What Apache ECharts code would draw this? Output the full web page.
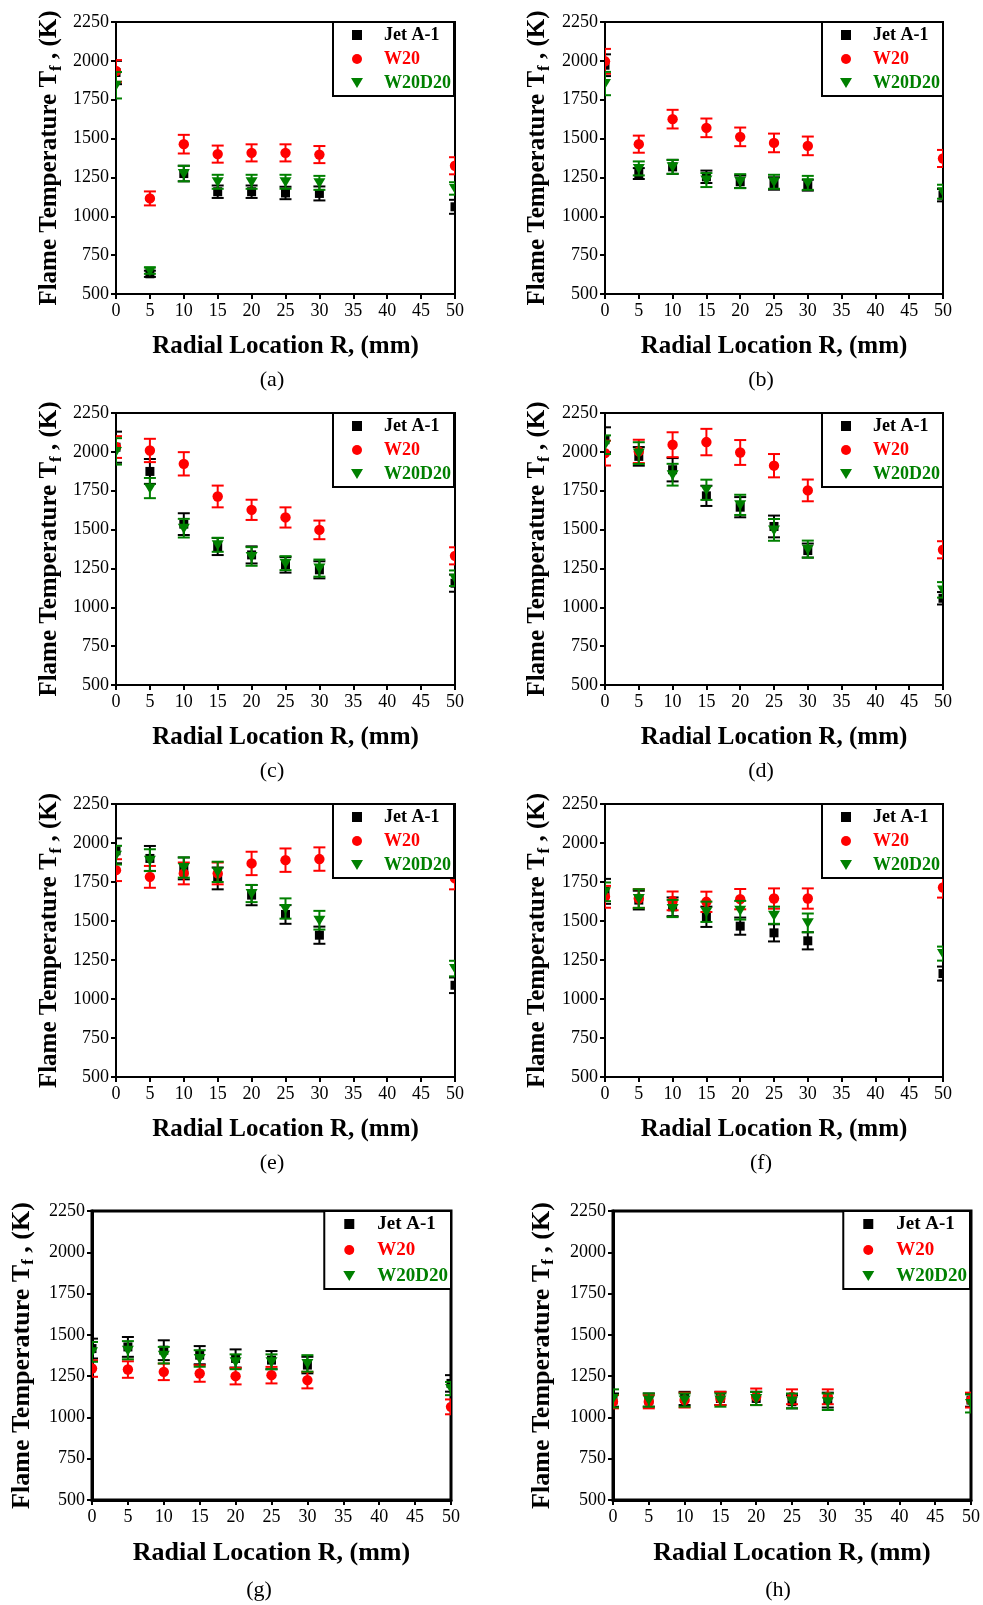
<!DOCTYPE html>
<html>
<head>
<meta charset="utf-8">
<script src="https://cdn.jsdelivr.net/npm/echarts/dist/echarts.min.js"></script>
<style>
html, body { margin: 0; padding: 0; background: #fff; }
#main { width: 983px; height: 1605px; }
</style>
</head>
<body>
<div id="main"></div>
<script>
// radial positions (mm), same for every panel
var radius = [0, 5, 10, 15, 20, 25, 30, 50];
var panelTags = ['(a)', '(b)', '(c)', '(d)', '(e)', '(f)', '(g)', '(h)'];
var fuelNames = ['Jet A-1', 'W20', 'W20D20'];

// flame temperature (K), one row per panel a..h
var jetA_T = [
    [1925, 630, 1275, 1158, 1158, 1150, 1147, 1061],
    [1972, 1275, 1318, 1254, 1222, 1211, 1200, 1136],
    [2030, 1874, 1535, 1391, 1337, 1273, 1241, 1155],
    [2078, 1971, 1885, 1717, 1644, 1520, 1365, 1058],
    [1950, 1901, 1837, 1773, 1666, 1542, 1409, 1088],
    [1690, 1634, 1591, 1527, 1467, 1424, 1373, 1163],
    [1417, 1427, 1407, 1377, 1357, 1347, 1317, 1206],
    [1105, 1105, 1115, 1115, 1115, 1095, 1105, 1105]
];
var jetA_err = [
    [75, 20, 50, 40, 40, 40, 45, 45],
    [70, 35, 45, 40, 40, 40, 35, 40],
    [100, 80, 70, 55, 55, 50, 55, 55],
    [80, 60, 75, 65, 65, 70, 45, 40],
    [80, 80, 70, 70, 65, 60, 55, 50],
    [80, 60, 60, 65, 55, 55, 55, 45],
    [60, 60, 60, 55, 55, 55, 50, 50],
    [40, 40, 40, 40, 40, 40, 45, 40]
];
var w20_T = [
    [1935, 1115, 1464, 1400, 1408, 1408, 1397, 1325],
    [1997, 1464, 1625, 1569, 1511, 1472, 1453, 1372],
    [2031, 2009, 1923, 1713, 1627, 1578, 1498, 1331],
    [1992, 2003, 2046, 2063, 1996, 1911, 1752, 1370],
    [1826, 1783, 1805, 1805, 1869, 1890, 1897, 1773],
    [1655, 1644, 1629, 1623, 1640, 1644, 1644, 1715],
    [1296, 1290, 1276, 1266, 1250, 1256, 1226, 1064],
    [1095, 1095, 1105, 1115, 1125, 1125, 1125, 1105]
];
var w20_err = [
    [70, 45, 60, 55, 55, 55, 55, 55],
    [80, 55, 60, 60, 60, 60, 60, 55],
    [70, 75, 75, 70, 65, 65, 60, 55],
    [80, 75, 80, 85, 80, 75, 70, 55],
    [70, 70, 70, 70, 75, 75, 75, 70],
    [70, 60, 60, 65, 65, 65, 65, 65],
    [50, 50, 50, 50, 50, 50, 50, 45],
    [40, 40, 45, 40, 50, 45, 45, 45]
];
var w20d20_T = [
    [1843, 650, 1275, 1222, 1222, 1222, 1215, 1179],
    [1854, 1308, 1318, 1233, 1226, 1222, 1215, 1158],
    [2003, 1767, 1509, 1402, 1327, 1284, 1252, 1187],
    [2046, 1992, 1853, 1756, 1659, 1498, 1374, 1112],
    [1922, 1890, 1843, 1815, 1676, 1580, 1505, 1195],
    [1687, 1644, 1580, 1559, 1569, 1537, 1488, 1291],
    [1397, 1407, 1377, 1357, 1337, 1337, 1327, 1175],
    [1115, 1105, 1105, 1105, 1115, 1100, 1095, 1085]
];
var w20d20_err = [
    [85, 20, 50, 45, 45, 45, 45, 40],
    [75, 45, 45, 45, 45, 45, 45, 45],
    [85, 65, 60, 45, 60, 45, 55, 50],
    [60, 70, 70, 65, 65, 70, 55, 50],
    [60, 70, 65, 65, 55, 65, 60, 50],
    [60, 60, 55, 65, 60, 55, 60, 45],
    [60, 55, 50, 50, 45, 45, 50, 40],
    [55, 40, 40, 40, 40, 45, 50, 55]
];

var fuelT = [jetA_T, w20_T, w20d20_T];
var fuelErr = [jetA_err, w20_err, w20d20_err];
var colors = ['#000000', '#ff0000', '#008000'];
var shapes = ['square', 'circle', 'triangle'];
var icons = ['path://M0,0L10,0L10,10L0,10Z', 'circle', 'path://M0,0L12,0L6,10Z'];

// panel boxes (px)
var boxes = [
    {left: 116, top: 22, w: 339, h: 272, legR: 454, tx: 272, ty: 380, yGap: 51},
    {left: 605, top: 22, w: 338, h: 272, legR: 943, tx: 761, ty: 380, yGap: 52},
    {left: 116, top: 413, w: 339, h: 272, legR: 454, tx: 272, ty: 771, yGap: 51},
    {left: 605, top: 413, w: 338, h: 272, legR: 943, tx: 761, ty: 771, yGap: 52},
    {left: 116, top: 804, w: 339, h: 273, legR: 454, tx: 272, ty: 1163, yGap: 51},
    {left: 605, top: 804, w: 338, h: 273, legR: 943, tx: 761, ty: 1163, yGap: 52},
    {left: 92, top: 1211, w: 359, h: 289, legR: 451, tx: 259, ty: 1590, yGap: 55},
    {left: 613, top: 1211, w: 358, h: 289, legR: 970, tx: 778, ty: 1590, yGap: 56}
];

var serif = 'Liberation Serif, Times New Roman, serif';

function drawMarker(shape, p, color) {
    if (shape === 'square') {
        return {type: 'rect', shape: {x: p[0] - 4.5, y: p[1] - 4.5, width: 9, height: 9}, style: {fill: color}};
    }
    if (shape === 'circle') {
        return {type: 'circle', shape: {cx: p[0], cy: p[1], r: 5.2}, style: {fill: color}};
    }
    return {type: 'polygon', shape: {points: [[p[0] - 6, p[1] - 4.5], [p[0] + 6, p[1] - 4.5], [p[0], p[1] + 5.5]]}, style: {fill: color}};
}

function makeRender(shape) {
    return function (params, api) {
        var x = api.value(0), y = api.value(1), e = api.value(2);
        var p = api.coord([x, y]);
        var hi = api.coord([x, y + e]);
        var lo = api.coord([x, y - e]);
        var color = api.visual('color');
        var ls = {stroke: color, lineWidth: 2};
        return {
            type: 'group',
            children: [
                {type: 'line', shape: {x1: p[0], y1: hi[1], x2: p[0], y2: lo[1]}, style: ls},
                {type: 'line', shape: {x1: p[0] - 6, y1: hi[1], x2: p[0] + 6, y2: hi[1]}, style: ls},
                {type: 'line', shape: {x1: p[0] - 6, y1: lo[1], x2: p[0] + 6, y2: lo[1]}, style: ls},
                drawMarker(shape, p, color)
            ]
        };
    };
}

function plainNum(v) { return String(v); }

var grids = [], xAxes = [], yAxes = [], series = [], legends = [], graphics = [];

boxes.forEach(function (b, i) {
    var big = i >= 6;
    var frame = big ? 3 : 2;
    grids.push({
        left: b.left, top: b.top, width: b.w, height: b.h,
        show: true, borderColor: '#000', borderWidth: frame,
        backgroundColor: 'transparent', containLabel: false, outerBoundsMode: 'none'
    });
    xAxes.push({
        gridIndex: i, type: 'value', min: 0, max: 50, interval: 5,
        name: 'Radial Location R, (mm)', nameLocation: 'middle', nameGap: 40,
        nameTextStyle: {fontFamily: serif, fontWeight: 'bold', fontSize: big ? 26 : 25, color: '#000'},
        axisLine: {lineStyle: {color: '#000', width: frame}},
        axisTick: {length: 5, lineStyle: {color: '#000', width: 2}},
        axisLabel: {fontFamily: serif, fontSize: 18, color: '#000', margin: 8, formatter: plainNum},
        splitLine: {show: false}
    });
    yAxes.push({
        gridIndex: i, type: 'value', min: 500, max: 2250, interval: 250,
        name: '{m|Flame Temperature T}{s|f}{m| , (K)}', nameLocation: 'middle', nameRotate: 90, nameGap: b.yGap,
        nameTextStyle: {
            rich: {
                m: {fontFamily: serif, fontWeight: 'bold', fontSize: big ? 26 : 25, lineHeight: 30, color: '#000'},
                s: {fontFamily: serif, fontWeight: 'bold', fontSize: 17, lineHeight: 14, verticalAlign: 'bottom', color: '#000'}
            }
        },
        axisLine: {lineStyle: {color: '#000', width: frame}},
        axisTick: {length: 5, lineStyle: {color: '#000', width: 2}},
        axisLabel: {fontFamily: serif, fontSize: 18, color: '#000', margin: 7, formatter: plainNum},
        splitLine: {show: false}
    });
    for (var k = 0; k < 3; k++) {
        var pts = radius.map(function (r, j) {
            return [r, fuelT[k][i][j], fuelErr[k][i][j]];
        });
        series.push({
            type: 'custom', name: fuelNames[k],
            xAxisIndex: i, yAxisIndex: i,
            clip: true,
            itemStyle: {color: colors[k]},
            renderItem: makeRender(shapes[k]),
            encode: {x: 0, y: 1},
            data: pts
        });
    }
    legends.push({
        right: 983 - b.legR, top: b.top, orient: 'vertical',
        backgroundColor: '#fff', borderColor: '#000', borderWidth: 2, borderRadius: 0,
        padding: big ? [3, 3, 3, 19] : [4, 3, 4, 18],
        itemGap: 6, itemWidth: big ? 46 : 44, itemHeight: 10,
        selectedMode: false,
        textStyle: {fontFamily: serif, fontWeight: 'bold', fontSize: big ? 19 : 18, lineHeight: big ? 20 : 18},
        data: fuelNames.map(function (n, k) {
            return {name: n, icon: icons[k], textStyle: {color: colors[k]}};
        })
    });
    graphics.push({
        type: 'text', x: b.tx, y: b.ty,
        style: {text: panelTags[i], textAlign: 'center', textVerticalAlign: 'middle',
            font: '22px ' + serif, fill: '#000'}
    });
});

var chart = echarts.init(document.getElementById('main'));
chart.setOption({
    animation: false,
    backgroundColor: '#fff',
    grid: grids,
    xAxis: xAxes,
    yAxis: yAxes,
    legend: legends,
    graphic: graphics,
    series: series
});
</script>
</body>
</html>
